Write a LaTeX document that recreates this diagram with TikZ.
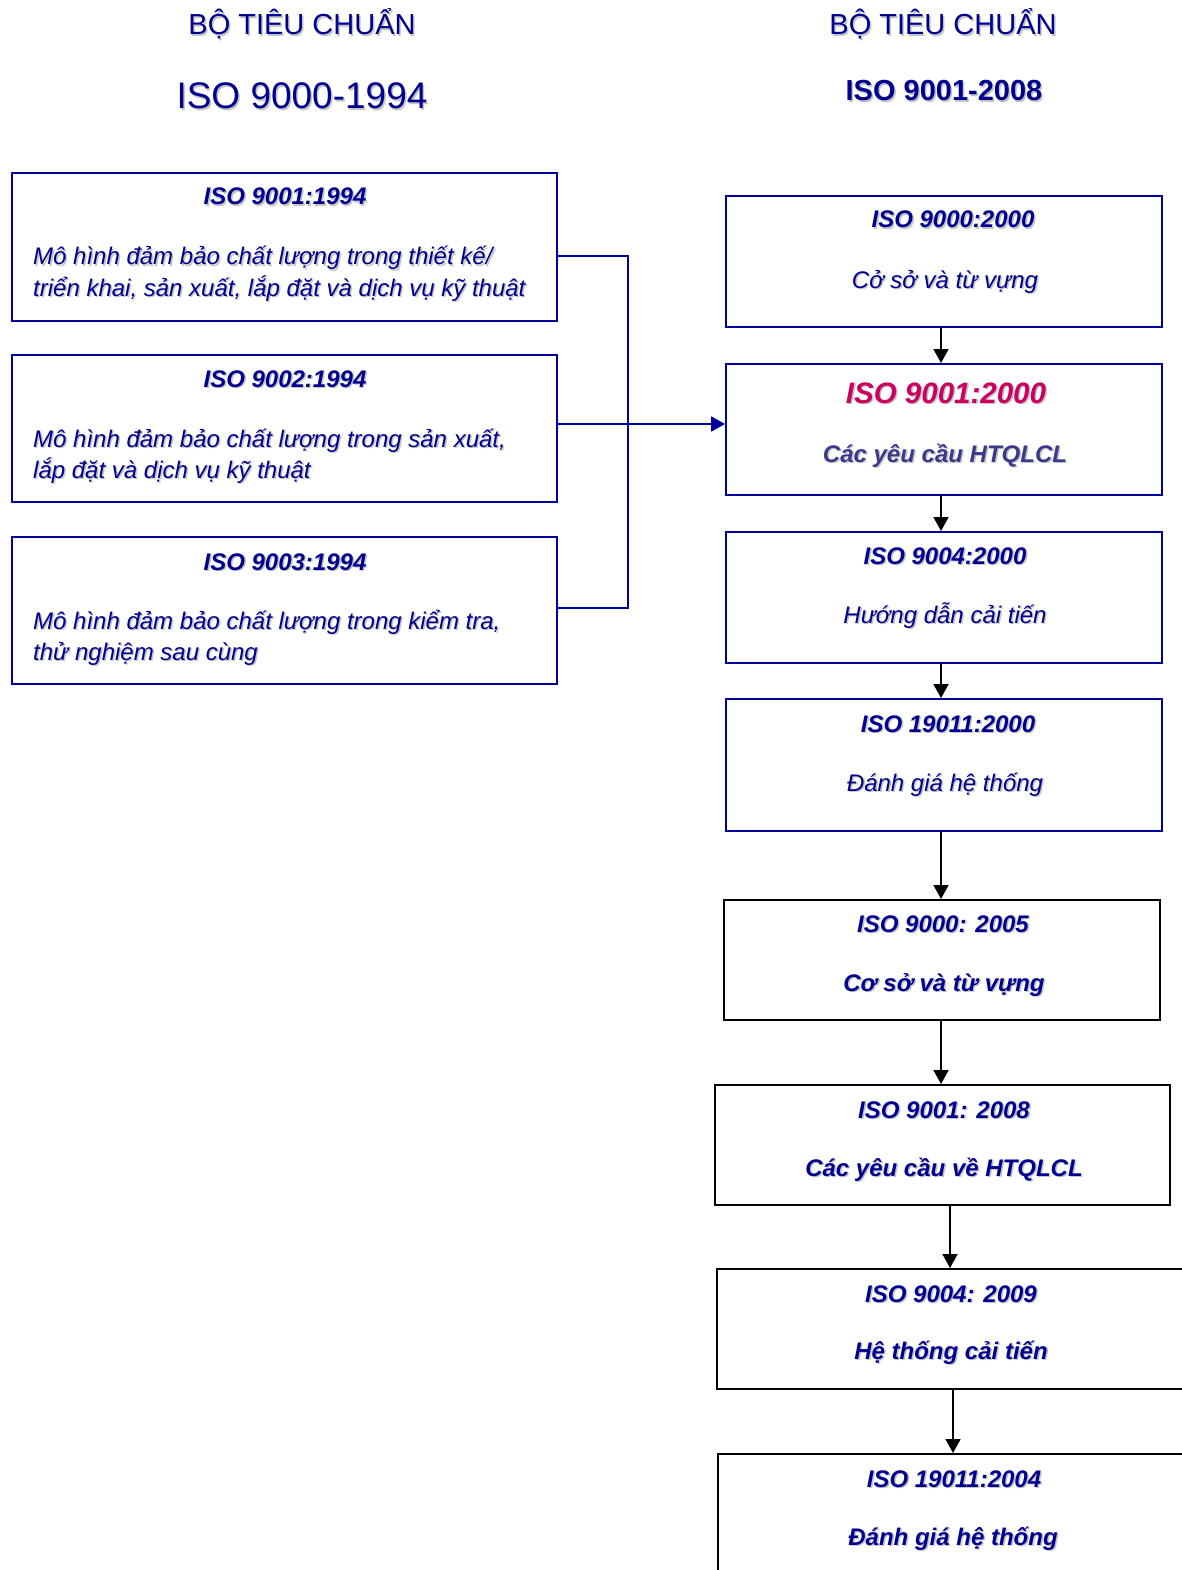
\documentclass[tikz,border=0pt]{standalone}
\usepackage{fontspec}
\setmainfont{Liberation Sans}
\usetikzlibrary{arrows.meta}
\definecolor{navy}{HTML}{000090}
\definecolor{boxblue}{HTML}{0000A0}
\definecolor{isored}{HTML}{CC0060}
\definecolor{slate}{HTML}{3A3A8C}
\definecolor{shad}{HTML}{C4C4C4}
\newcommand\shd[1]{\makebox[0pt][l]{\hspace{1.5pt}\raisebox{-1.5pt}{\textcolor{shad}{#1}}}#1}
\begin{document}
\begin{tikzpicture}[x=1pt,y=-1pt,
  bluebox/.style={draw=boxblue,line width=1.8pt,rectangle,inner sep=0pt,anchor=north west},
  blackbox/.style={draw=black,line width=1.8pt,rectangle,inner sep=0pt,anchor=north west},
  ttl/.style={anchor=base,text=navy,font=\fontsize{24pt}{30pt}\selectfont\bfseries\itshape,inner sep=0pt},
  bdy/.style={anchor=base,text=navy,font=\fontsize{24pt}{30pt}\selectfont\itshape,inner sep=0pt},
  bdyb/.style={anchor=base,text=navy,font=\fontsize{24pt}{30pt}\selectfont\bfseries\itshape,inner sep=0pt},
  lbdy/.style={anchor=base west,text=navy,font=\fontsize{24pt}{30pt}\selectfont\itshape,inner sep=0pt},
  head/.style={anchor=base,text=navy,inner sep=0pt},
  conn/.style={draw=boxblue,line width=1.8pt},
  blk/.style={draw=black,line width=1.8pt,-{Triangle[length=14pt,width=15pt]}}]
\useasboundingbox (0,0) rectangle (1182,1570);
\clip (0,0) rectangle (1182,1570);
% headings
\node[head,font=\fontsize{29pt}{32pt}\selectfont] (h1) at (302,35) {\shd{BỘ TIÊU CHUẨN}};
\node[head,font=\fontsize{37pt}{40pt}\selectfont] (h2) at (302,109) {\shd{ISO 9000-1994}};
\node[head,font=\fontsize{29pt}{32pt}\selectfont] (h3) at (943,35) {\shd{BỘ TIÊU CHUẨN}};
\node[head,font=\fontsize{29pt}{32pt}\selectfont\bfseries] (h4) at (944,101) {\shd{ISO 9001-2008}};
% left boxes
\node[bluebox,minimum width=545pt,minimum height=148pt] (L1) at (11,172) {};
\node[bluebox,minimum width=545pt,minimum height=147pt] (L2) at (11,354) {};
\node[bluebox,minimum width=545pt,minimum height=147pt] (L3) at (11,536) {};
\node[ttl] (L1t) at (285,205) {\shd{ISO 9001:1994}};
\node[lbdy] (L1a) at (33,265) {\shd{Mô hình đảm bảo chất lượng trong thiết kế/}};
\node[lbdy] (L1b) at (33,296) {\shd{triển khai, sản xuất, lắp đặt và dịch vụ kỹ thuật}};
\node[ttl] (L2t) at (285,387) {\shd{ISO 9002:1994}};
\node[lbdy] (L2a) at (33,447) {\shd{Mô hình đảm bảo chất lượng trong sản xuất,}};
\node[lbdy] (L2b) at (33,478) {\shd{lắp đặt và dịch vụ kỹ thuật}};
\node[ttl] (L3t) at (285,570) {\shd{ISO 9003:1994}};
\node[lbdy] (L3a) at (33,629) {\shd{Mô hình đảm bảo chất lượng trong kiểm tra,}};
\node[lbdy] (L3b) at (33,660) {\shd{thử nghiệm sau cùng}};
% right boxes
\node[bluebox,minimum width=436pt,minimum height=131pt] (R1) at (725,195) {};
\node[bluebox,minimum width=436pt,minimum height=131pt] (R2) at (725,363) {};
\node[bluebox,minimum width=436pt,minimum height=131pt] (R3) at (725,531) {};
\node[bluebox,minimum width=436pt,minimum height=132pt] (R4) at (725,698) {};
\node[blackbox,minimum width=436pt,minimum height=120pt] (R5) at (723,899) {};
\node[blackbox,minimum width=455pt,minimum height=120pt] (R6) at (714,1084) {};
\node[blackbox,minimum width=520pt,minimum height=120pt] (R7) at (716,1268) {};
\node[blackbox,minimum width=520pt,minimum height=200pt] (R8) at (717,1453) {};
\node[ttl] (R1t) at (953,228) {\shd{ISO 9000:2000}};
\node[bdy] (R1b) at (945,288) {\shd{Cở sở và từ vựng}};
\node[ttl,text=isored,font=\fontsize{29.5pt}{32pt}\selectfont\bfseries\itshape] (R2t) at (946,403) {\shd{ISO 9001:2000}};
\node[bdyb,text=slate] (R2b) at (945,462) {\shd{Các yêu cầu HTQLCL}};
\node[ttl] (R3t) at (945,564) {\shd{ISO 9004:2000}};
\node[bdy] (R3b) at (945,623) {\shd{Hướng dẫn cải tiến}};
\node[ttl] (R4t) at (948,732) {\shd{ISO 19011:2000}};
\node[bdy] (R4b) at (945,791) {\shd{Đánh giá hệ thống}};
\node[ttl] (R5t) at (943,932) {\shd{ISO 9000: 2005}};
\node[bdyb] (R5b) at (944,991) {\shd{Cơ sở và từ vựng}};
\node[ttl] (R6t) at (944,1118) {\shd{ISO 9001: 2008}};
\node[bdyb] (R6b) at (944,1176) {\shd{Các yêu cầu về HTQLCL}};
\node[ttl] (R7t) at (951,1302) {\shd{ISO 9004: 2009}};
\node[bdyb] (R7b) at (951,1359) {\shd{Hệ thống cải tiến}};
\node[ttl] (R8t) at (954,1487) {\shd{ISO 19011:2004}};
\node[bdyb] (R8b) at (953,1545) {\shd{Đánh giá hệ thống}};
% left connectors
\coordinate (j1) at (628,256);
\coordinate (j3) at (628,608);
\coordinate (a2) at (556,424);
\draw[conn] (L1.east |- j1) -- (j1) -- (j3) -- (L3.east |- j3);
\draw[conn,line width=2.4pt,-{Triangle[length=14pt,width=15pt]}] (a2) -- (a2 -| R2.west);
% right chain
\coordinate (c1) at (941,0);
\coordinate (c6) at (950,0);
\coordinate (c7) at (953,0);
\draw[blk] (R1.south -| c1) -- (R2.north -| c1);
\draw[blk] (R2.south -| c1) -- (R3.north -| c1);
\draw[blk] (R3.south -| c1) -- (R4.north -| c1);
\draw[blk] (R4.south -| c1) -- (R5.north -| c1);
\draw[blk] (R5.south -| c1) -- (R6.north -| c1);
\draw[blk] (R6.south -| c6) -- (R7.north -| c6);
\draw[blk] (R7.south -| c7) -- (R8.north -| c7);
\end{tikzpicture}
\end{document}
